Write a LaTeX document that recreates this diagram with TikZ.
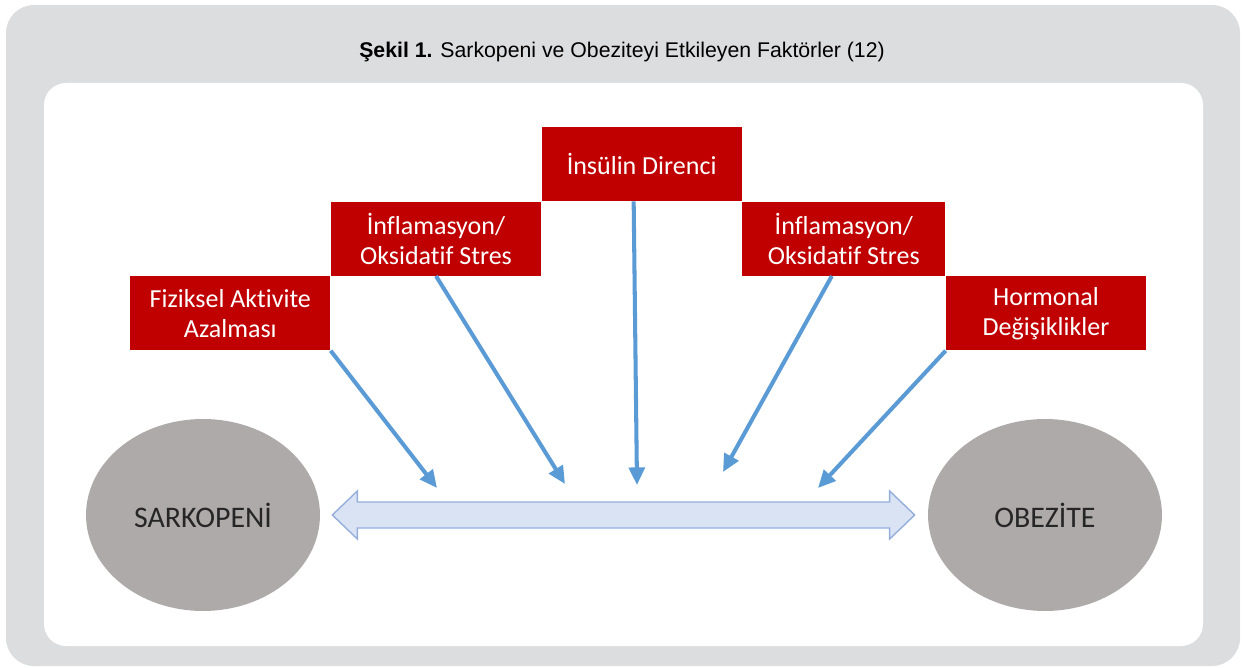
\documentclass[tikz,border=0pt]{standalone}
\usepackage{fontspec}
\setmainfont{Liberation Sans}
\newfontfamily\calibri[Ligatures=NoCommon]{Carlito}
\usetikzlibrary{shapes.geometric, arrows.meta, positioning, calc}
\definecolor{panelgray}{HTML}{DCDDDF}
\definecolor{boxred}{HTML}{C00000}
\definecolor{linkblue}{HTML}{5B9BD5}
\definecolor{linkfill}{HTML}{DAE3F3}
\definecolor{linkedge}{HTML}{94AFDC}
\definecolor{ovalgray}{HTML}{AEAAAA}

\begin{document}
\begin{tikzpicture}[
    x=0.02cm, y=-0.02cm,
    box/.style={rectangle, fill=boxred, text=white, minimum width=4.0cm,
                minimum height=1.48cm, inner sep=2pt, align=center,
                font=\calibri\fontsize{14.8}{17}\selectfont},
    oval/.style={ellipse, fill=ovalgray, minimum width=4.68cm, minimum height=3.84cm,
                 text=black!85, font=\calibri\fontsize{17}{20}\selectfont},
    arrow/.style={-{Triangle[length=10pt, width=9pt]}, linkblue, line width=2.3pt},
    link/.style={draw=linkedge, fill=linkfill, line width=0.8pt, line join=miter},
]
\useasboundingbox (0,0) rectangle (1243,668);
\fill[panelgray, rounded corners=0.56cm] (6,5) rectangle (1240,666);
\fill[white, rounded corners=0.44cm] (44,83) rectangle (1203,646);
\node[font=\fontsize{12.1}{14}\selectfont] (title) at (622,52)
    {\textbf{Şekil 1.} Sarkopeni ve Obeziteyi Etkileyen Faktörler (12)};

\node[box, anchor=north west] (fiz) at (130,276) {Fiziksel Aktivite\\Azalması};
\node[box, minimum width=4.2cm, above right=0cm and 0cm of fiz] (inf1) {İnflamasyon/\\Oksidatif Stres};
\node[box, above right=0cm and 0cm of inf1] (ins) {İnsülin Direnci};
\node[box, minimum width=4.06cm, below right=0cm and 0cm of ins] (inf2) {İnflamasyon/\\Oksidatif Stres};
\node[box, below right=0cm and 0cm of inf2] (hor) {Hormonal\\Değişiklikler};

\node[oval] (sark) at (203,515) {SARKOPENİ};
\node[oval] (obez) at (1045,515) {OBEZİTE};

\coordinate (lt) at ([xshift=0.24cm]sark.east);
\coordinate (rt) at ([xshift=-0.26cm]obez.west);
\draw[link] (lt) -- ++(25,-24) -- ++(0,11) -- ($(rt)+(-25,-13)$) -- ++(0,-11) -- (rt)
    -- ++(-25,24) -- ++(0,-11) -- ($(lt)+(25,13)$) -- ++(0,11) -- cycle;

\coordinate (e1) at (437,488);
\coordinate (e2) at (565,484);
\coordinate (e3) at (637,485);
\coordinate (e4) at (723,472);
\coordinate (e5) at (818,488);

\draw[arrow] (fiz.south east) -- (e1);
\draw[arrow] (inf1.south) -- (e2);
\draw[arrow] ([xshift=-0.16cm]ins.south) -- (e3);
\draw[arrow] ([xshift=-0.24cm]inf2.south) -- (e4);
\draw[arrow] (hor.south west) -- (e5);
\end{tikzpicture}
\end{document}
